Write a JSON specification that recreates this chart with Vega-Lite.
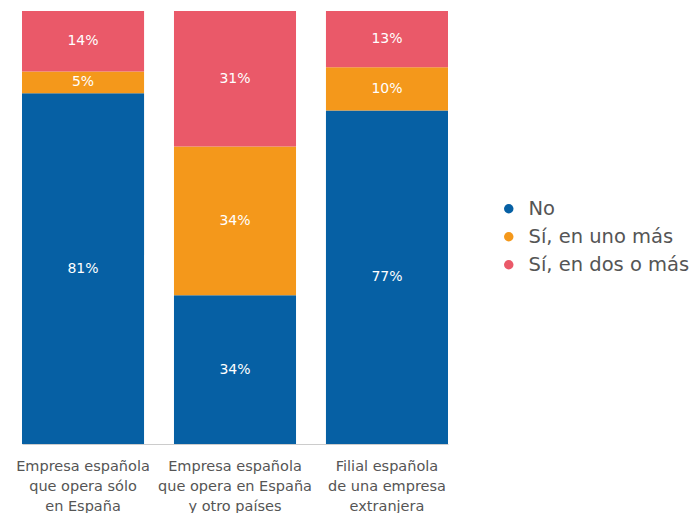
{
  "$schema": "https://vega.github.io/schema/vega-lite/v6.json",
  "width": 464,
  "height": 433,
  "autosize": {"type": "none"},
  "padding": {"left": 8, "top": 11, "right": 222, "bottom": 69},
  "background": "white",
  "config": {"view": {"stroke": null}, "font": "DejaVu Sans"},
  "data": {
    "values": [
      {"empresa": "Empresa española|que opera sólo|en España", "respuesta": "No", "orden": 1, "valor": 81},
      {"empresa": "Empresa española|que opera sólo|en España", "respuesta": "Sí, en uno más", "orden": 2, "valor": 5},
      {"empresa": "Empresa española|que opera sólo|en España", "respuesta": "Sí, en dos o más", "orden": 3, "valor": 14},
      {"empresa": "Empresa española|que opera en España|y otro países", "respuesta": "No", "orden": 1, "valor": 34},
      {"empresa": "Empresa española|que opera en España|y otro países", "respuesta": "Sí, en uno más", "orden": 2, "valor": 34},
      {"empresa": "Empresa española|que opera en España|y otro países", "respuesta": "Sí, en dos o más", "orden": 3, "valor": 31},
      {"empresa": "Filial española|de una empresa|extranjera", "respuesta": "No", "orden": 1, "valor": 77},
      {"empresa": "Filial española|de una empresa|extranjera", "respuesta": "Sí, en uno más", "orden": 2, "valor": 10},
      {"empresa": "Filial española|de una empresa|extranjera", "respuesta": "Sí, en dos o más", "orden": 3, "valor": 13}
    ]
  },
  "transform": [
    {"stack": "valor", "groupby": ["empresa"], "sort": [{"field": "orden", "order": "ascending"}], "offset": "normalize", "as": ["y0", "y1"]},
    {"calculate": "(datum.y0 + datum.y1) / 2", "as": "ymid"},
    {"calculate": "datum.valor + '%'", "as": "etiqueta"}
  ],
  "encoding": {
    "x": {
      "field": "empresa",
      "type": "nominal",
      "sort": null,
      "scale": {"range": [14, 440], "paddingInner": 0.197, "paddingOuter": 0},
      "axis": {
        "title": null,
        "labelAngle": 0,
        "labelExpr": "split(datum.label, '|')",
        "labelFontSize": 14.5,
        "labelColor": "#555555",
        "labelLineHeight": 20,
        "labelPadding": 15,
        "labelBaseline": "top",
        "ticks": false,
        "domainColor": "#cccccc",
        "domainWidth": 1
      }
    }
  },
  "layer": [
    {
      "mark": {"type": "bar"},
      "encoding": {
        "y": {"field": "y0", "type": "quantitative", "scale": {"domain": [0, 1]}, "axis": null},
        "y2": {"field": "y1"},
        "color": {
          "field": "respuesta",
          "type": "nominal",
          "scale": {"domain": ["No", "Sí, en uno más", "Sí, en dos o más"], "range": ["#0660a4", "#f4981b", "#ea5969"]},
          "legend": {
            "title": null,
            "orient": "none",
            "legendX": 491,
            "legendY": 188,
            "symbolType": "circle",
            "symbolSize": 90,
            "labelFontSize": 19.5,
            "labelLimit": 300,
            "labelColor": "#555555",
            "labelOffset": 10,
            "rowPadding": 7
          }
        }
      }
    },
    {
      "mark": {"type": "text", "color": "white", "fontSize": 14, "baseline": "middle"},
      "encoding": {
        "y": {"field": "ymid", "type": "quantitative", "scale": {"domain": [0, 1]}},
        "text": {"field": "etiqueta", "type": "nominal"}
      }
    }
  ]
}
